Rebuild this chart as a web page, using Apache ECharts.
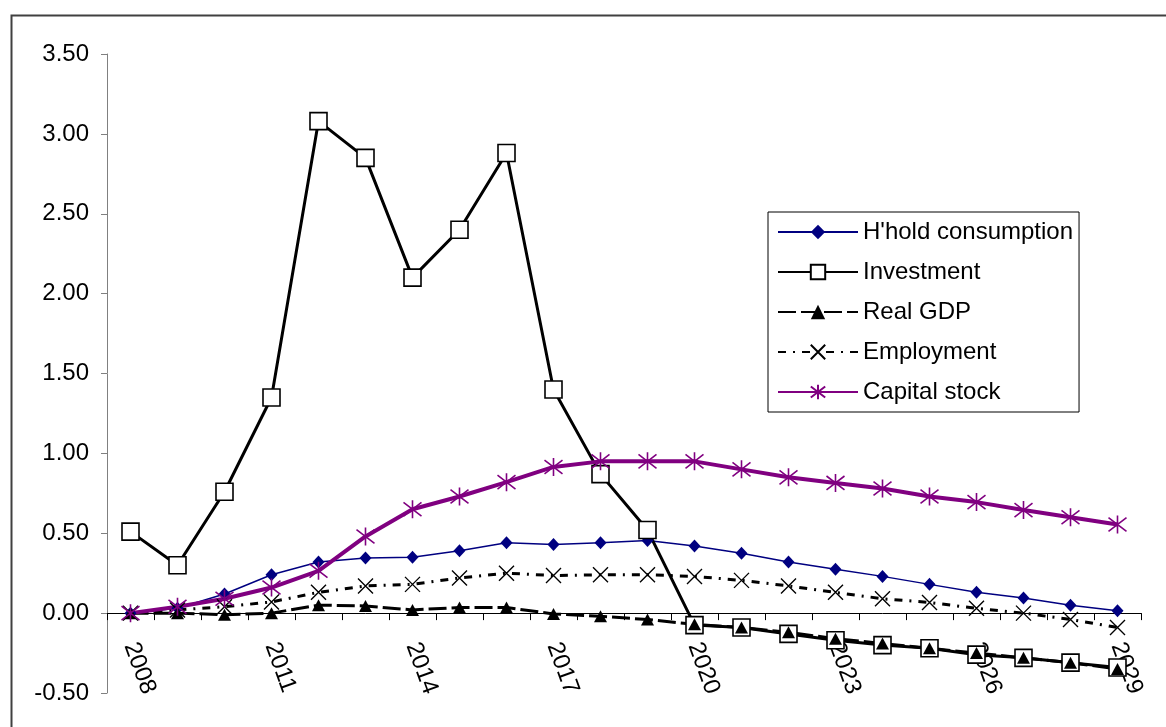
<!DOCTYPE html>
<html>
<head>
<meta charset="utf-8">
<script src="https://cdn.jsdelivr.net/npm/echarts@6/dist/echarts.min.js"></script>
<style>
html,body{margin:0;padding:0;background:#fff;}
#chart{width:1166px;height:727px;}
</style>
</head>
<body>
<div id="chart"></div>
<script>
var years = ['2008','2009','2010','2011','2012','2013','2014','2015','2016','2017','2018','2019','2020','2021','2022','2023','2024','2025','2026','2027','2028','2029'];
var hhold = [0.00,0.03,0.12,0.24,0.32,0.345,0.35,0.39,0.44,0.43,0.44,0.455,0.42,0.375,0.32,0.275,0.23,0.18,0.13,0.094,0.05,0.015];
var investment = [0.51,0.30,0.76,1.35,3.08,2.85,2.10,2.40,2.88,1.40,0.87,0.52,-0.075,-0.09,-0.13,-0.17,-0.20,-0.22,-0.26,-0.28,-0.31,-0.34];
var realGdp = [0.00,0.00,-0.01,0.00,0.05,0.045,0.02,0.035,0.035,-0.005,-0.02,-0.04,-0.07,-0.09,-0.12,-0.16,-0.19,-0.22,-0.25,-0.28,-0.31,-0.35];
var employment = [0.00,0.02,0.04,0.07,0.13,0.17,0.18,0.22,0.25,0.235,0.24,0.24,0.23,0.205,0.17,0.13,0.09,0.067,0.03,0.00,-0.04,-0.09];
var capital = [0.00,0.04,0.09,0.16,0.265,0.48,0.65,0.73,0.82,0.915,0.95,0.95,0.95,0.90,0.85,0.815,0.78,0.73,0.695,0.645,0.60,0.555];
var seriesNames = ["H'hold consumption", 'Investment', 'Real GDP', 'Employment', 'Capital stock'];

var FONT = 'Liberation Sans, Arial, sans-serif';
var Y_MIN = -0.5, Y_MAX = 3.5;
var GRID = {left: 107, right: 25, top: 54, bottom: 34};
var chartH = 727;
// distance from the bottom of the grid to the zero line, so the category axis sits on y = 0
var plotH = chartH - GRID.top - GRID.bottom;
var zeroOffset = -plotH * (0 - Y_MIN) / (Y_MAX - Y_MIN);

var chart = echarts.init(document.getElementById('chart'), null, {renderer: 'canvas'});
var option = {
  animation: false,
  backgroundColor: '#fff',
  graphic: [{
    type: 'rect', left: 9, top: 13, z: -10, silent: true,
    shape: {x: 0, y: 0, width: 1170, height: 730},
    style: {fill: 'none', stroke: '#404040', lineWidth: 2}
  }],
  grid: {left: GRID.left, right: GRID.right, top: GRID.top, bottom: GRID.bottom, containLabel: false, outerBoundsMode: 'none'},
  legend: {
    orient: 'vertical', left: 768, top: 212,
    padding: [8, 6, 8, 9],
    itemWidth: 80, itemHeight: 18, itemGap: 16,
    backgroundColor: '#fff', borderColor: '#000', borderWidth: 1,
    textStyle: {fontFamily: FONT, fontSize: 24, color: '#000', lineHeight: 24},
    data: seriesNames
  },
  xAxis: {
    type: 'category', data: years, boundaryGap: true, position: 'bottom', offset: zeroOffset,
    axisLine: {onZero: false, lineStyle: {color: '#000', width: 1}},
    axisTick: {show: true, interval: 0, length: 7, lineStyle: {color: '#000'}},
    axisLabel: {interval: 2, rotate: -70, margin: 30, fontFamily: FONT, fontSize: 24, color: '#000'},
    splitLine: {show: false}
  },
  yAxis: {
    type: 'value', min: Y_MIN, max: Y_MAX, interval: 0.5,
    axisLine: {show: true, lineStyle: {color: '#808080', width: 1}},
    axisTick: {show: true, length: 6, lineStyle: {color: '#808080'}},
    axisLabel: {margin: 18, fontFamily: FONT, fontSize: 24, color: '#000', formatter: function (v) { return v.toFixed(2); }},
    splitLine: {show: false}
  },
  series: [
    {
      name: seriesNames[0], type: 'line', data: hhold, showAllSymbol: true,
      symbol: 'diamond', symbolSize: [12, 13],
      lineStyle: {color: '#000080', width: 1.5},
      itemStyle: {color: '#000080', borderWidth: 0}
    },
    {
      name: seriesNames[1], type: 'line', data: investment, showAllSymbol: true,
      symbol: 'rect', symbolSize: 17,
      lineStyle: {color: '#000', width: 3},
      itemStyle: {color: '#fff', borderColor: '#000', borderWidth: 1.6}
    },
    {
      name: seriesNames[2], type: 'line', data: realGdp, showAllSymbol: true,
      symbol: 'triangle', symbolSize: [13, 12],
      lineStyle: {color: '#000', width: 3, type: [18, 5]},
      itemStyle: {color: '#000', borderWidth: 0}
    },
    {
      name: seriesNames[3], type: 'line', data: employment, showAllSymbol: true,
      symbol: 'path://M0,0L10,10M10,0L0,10', symbolSize: 15,
      lineStyle: {color: '#000', width: 3, type: [8, 7, 2, 7]},
      itemStyle: {color: '#000', borderColor: '#000', borderWidth: 1.4}
    },
    {
      name: seriesNames[4], type: 'line', data: capital, showAllSymbol: true,
      symbol: 'path://M0,0L10,10M10,0L0,10M5,-1.5L5,11.5', symbolSize: 18,
      lineStyle: {color: '#800080', width: 4},
      itemStyle: {color: '#800080', borderColor: '#800080', borderWidth: 1.6}
    }
  ]
};
chart.setOption(option);
</script>
</body>
</html>
